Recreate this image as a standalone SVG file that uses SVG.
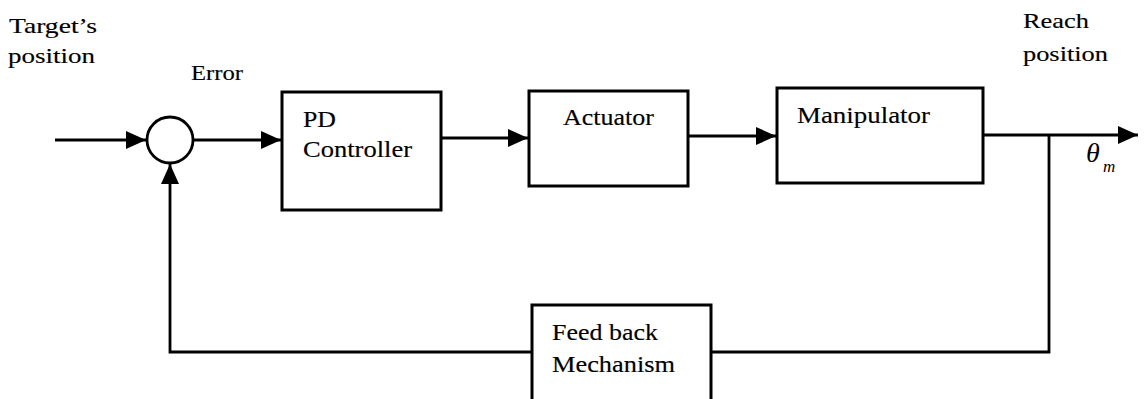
<svg xmlns="http://www.w3.org/2000/svg" width="1145" height="399" viewBox="0 0 1145 399">
<style>
.box{fill:#fff;stroke:#000;stroke-width:3}
.ln{fill:none;stroke:#000;stroke-width:2.8}
.t{font-family:"Liberation Serif","Times New Roman",serif;font-size:22px;fill:#000;stroke:#000;stroke-width:0.15}
.b{font-family:"Liberation Serif","Times New Roman",serif;font-size:23px;fill:#000;stroke:#000;stroke-width:0.15}
.th{font-family:"Liberation Serif","Times New Roman",serif;font-style:italic;font-size:28px;fill:#000}
.sub{font-family:"Liberation Serif","Times New Roman",serif;font-style:italic;font-size:17px;fill:#000}
</style>
<defs>
<marker id="ah" markerUnits="userSpaceOnUse" markerWidth="21" markerHeight="19" refX="20" refY="9" orient="auto" viewBox="0 0 21 19">
<path d="M0,0 L20,9 L0,18 z" fill="#000"/>
</marker>
</defs>
<rect width="1145" height="399" fill="#fff"/>
<g id="connectors">
<path class="ln" d="M55,140 L146,140" marker-end="url(#ah)"/>
<path class="ln" d="M193,140 L281,140" marker-end="url(#ah)"/>
<path class="ln" d="M441,138 L528,138" marker-end="url(#ah)"/>
<path class="ln" d="M688,136 L776,136" marker-end="url(#ah)"/>
<path class="ln" d="M983,135 L1138,135" marker-end="url(#ah)"/>
<path class="ln" d="M1049,135 L1049,352 L711,352"/>
<path class="ln" d="M532,352 L170,352 L170,164" marker-end="url(#ah)"/>
</g>
<g id="sum">
<circle cx="170" cy="140" r="23" fill="#fff" stroke="#000" stroke-width="2.8"/>
</g>
<g id="pd">
<rect class="box" x="282" y="92" width="159" height="118"/>
<text class="b" x="303" y="127" textLength="33" lengthAdjust="spacingAndGlyphs">PD</text>
<text class="b" x="303" y="157" textLength="109" lengthAdjust="spacingAndGlyphs">Controller</text>
</g>
<g id="actuator">
<rect class="box" x="529" y="91" width="159" height="95"/>
<text class="b" x="563" y="125" textLength="91" lengthAdjust="spacingAndGlyphs">Actuator</text>
</g>
<g id="manipulator">
<rect class="box" x="777" y="88" width="206" height="95"/>
<text class="b" x="797" y="123" textLength="133" lengthAdjust="spacingAndGlyphs">Manipulator</text>
</g>
<g id="feedback">
<rect class="box" x="532" y="305" width="179" height="100"/>
<text class="b" x="552" y="340" textLength="106" lengthAdjust="spacingAndGlyphs">Feed back</text>
<text class="b" x="552" y="372" textLength="123" lengthAdjust="spacingAndGlyphs">Mechanism</text>
</g>
<g id="labels">
<text class="t" x="9" y="33" textLength="88" lengthAdjust="spacingAndGlyphs">Target’s</text>
<text class="t" x="8" y="63" textLength="87" lengthAdjust="spacingAndGlyphs">position</text>
<text class="t" x="191" y="80" textLength="52" lengthAdjust="spacingAndGlyphs">Error</text>
<text class="t" x="1023" y="28" textLength="66" lengthAdjust="spacingAndGlyphs">Reach</text>
<text class="t" x="1023" y="61" textLength="85" lengthAdjust="spacingAndGlyphs">position</text>
<text class="th" x="1086" y="162">θ</text>
<text class="sub" x="1103" y="172">m</text>
</g>
</svg>
